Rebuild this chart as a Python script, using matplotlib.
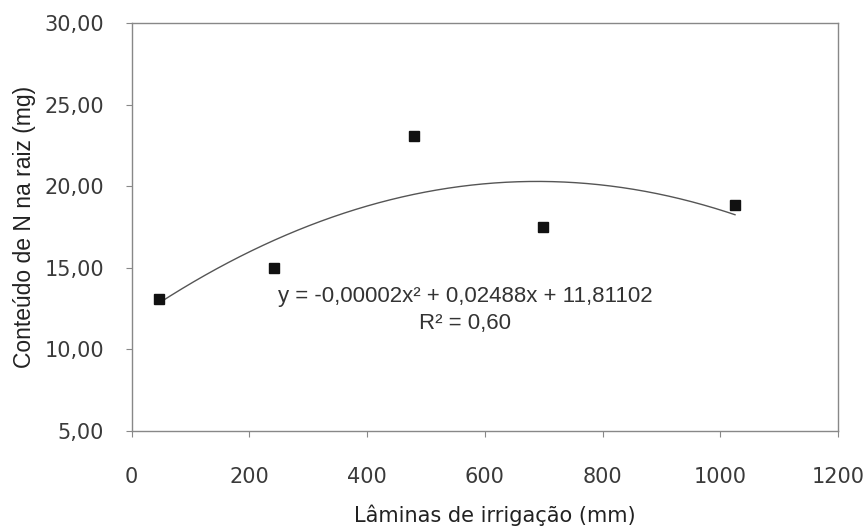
import numpy as np
import matplotlib
matplotlib.use("Agg")
import matplotlib.pyplot as plt
from matplotlib.ticker import FuncFormatter

# data
laminas = [46, 241, 480, 698, 1025]
conteudo_n = [13.1, 15.0, 23.1, 17.5, 18.85]
x_ticks = [0, 200, 400, 600, 800, 1000, 1200]
y_ticks = [5, 10, 15, 20, 25, 30]
equation = "y = -0,00002x² + 0,02488x + 11,81102"
r2_text = "R² = 0,60"
xlabel = "Lâminas de irrigação (mm)"
ylabel = "Conteúdo de N na raiz (mg)"

fig = plt.figure(figsize=(8.68, 5.30), dpi=100)
ax = fig.add_axes([131.7/868, 1-431/530, (838-131.7)/868, (431-23)/530])

coef = np.polyfit(laminas, conteudo_n, 2)
xs = np.linspace(min(laminas), max(laminas), 200)
ax.plot(xs, np.polyval(coef, xs), color="#555555", lw=1.0, zorder=2)
ax.plot(laminas, conteudo_n, linestyle="none", marker="s", markersize=6.5,
        color="#111111", zorder=3)

ax.set_xlim(0, 1200)
ax.set_ylim(5, 30)
ax.set_xticks(x_ticks)
ax.set_yticks(y_ticks)
ax.yaxis.set_major_formatter(FuncFormatter(lambda v, p: f"{v:.2f}".replace(".", ",")))
ax.tick_params(axis="both", labelsize=15, colors="#888888", labelcolor="#3a3a3a",
               length=4, width=0.8, direction="out")
ax.tick_params(axis="y", pad=16)
ax.tick_params(axis="x", pad=22)
for s in ax.spines.values():
    s.set_color("#888888")
    s.set_linewidth(1.0)

ax.text(567, 12.9, equation, ha="center", va="baseline", fontsize=16,
        family="Liberation Sans", color="#333333")
ax.text(567, 11.25, r2_text, ha="center", va="baseline", fontsize=16,
        family="Liberation Sans", color="#333333")

fig.text(495/868, 1-515/530, xlabel, ha="center", va="center", fontsize=15,
         family="DejaVu Sans", color="#222222")
fig.text(25/868, 1-227/530, ylabel, ha="center", va="center", rotation=90,
         fontsize=16.5, family="Liberation Sans", color="#222222")

fig.savefig("out.png", dpi=100)
